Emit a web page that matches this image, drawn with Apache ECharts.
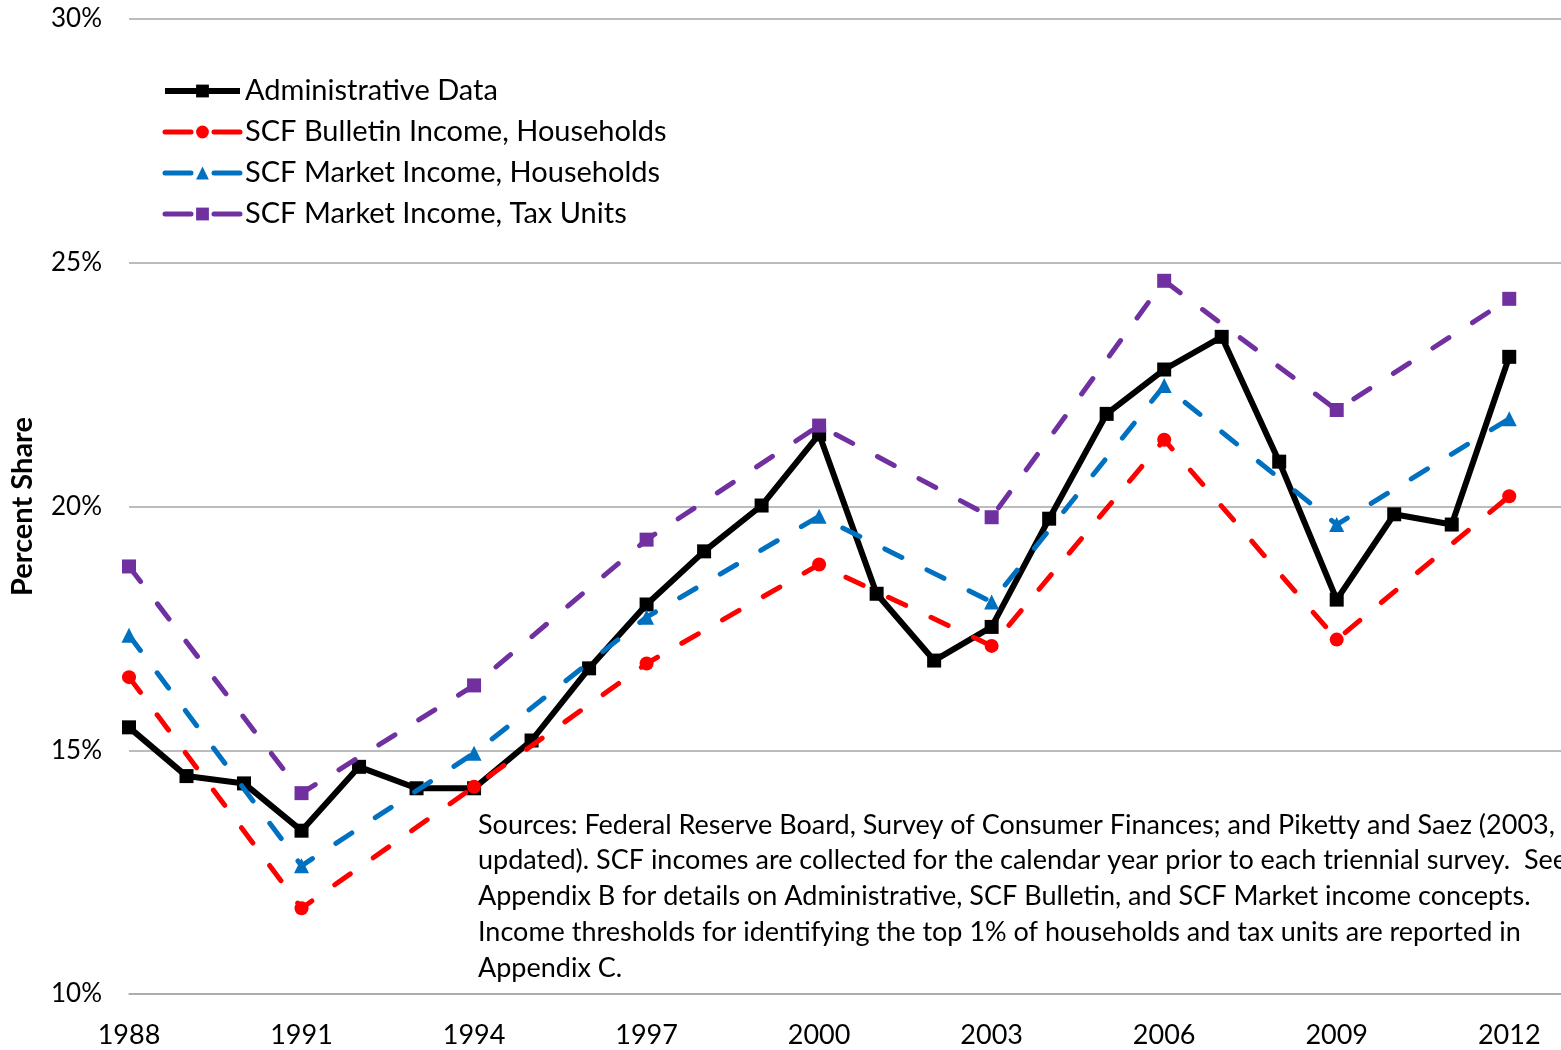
<!DOCTYPE html>
<html>
<head>
<meta charset="utf-8">
<title>Top 1% income share</title>
<script src="https://cdn.jsdelivr.net/npm/echarts@6/dist/echarts.min.js"></script>
<style>
  html, body { margin: 0; padding: 0; background: #fff; }
  #chart { width: 1561px; height: 1050px; }
</style>
</head>
<body>
<div id="chart"></div>
<script>
// administrative data is annual
var adminYears = [1988, 1989, 1990, 1991, 1992, 1993, 1994, 1995, 1996, 1997, 1998, 1999, 2000,
                  2001, 2002, 2003, 2004, 2005, 2006, 2007, 2008, 2009, 2010, 2011, 2012];
var adminShare = [15.47, 14.47, 14.32, 13.35, 14.66, 14.22, 14.22, 15.2, 16.68, 17.99, 19.08, 20.02, 21.48,
                  18.21, 16.84, 17.53, 19.75, 21.9, 22.81, 23.48, 20.92, 18.09, 19.84, 19.63, 23.07];

// SCF is triennial
var scfYears = [1988, 1991, 1994, 1997, 2000, 2003, 2006, 2009, 2012];
var scfBulletinHH = [16.5, 11.76, 14.25, 16.78, 18.81, 17.14, 21.37, 17.27, 20.21];
var scfMarketHH   = [17.36, 12.63, 14.94, 17.73, 19.8, 18.04, 22.48, 19.63, 21.8];
var scfMarketTU   = [18.77, 14.12, 16.33, 19.32, 21.66, 19.78, 24.63, 21.98, 24.26];

var seriesNames = ['Administrative Data', 'SCF Bulletin Income, Households',
                   'SCF Market Income, Households', 'SCF Market Income, Tax Units'];

var note = 'Sources: Federal Reserve Board, Survey of Consumer Finances; and Piketty and Saez (2003,\n' +
  'updated). SCF incomes are collected for the calendar year prior to each triennial survey.  See\n' +
  'Appendix B for details on Administrative, SCF Bulletin, and SCF Market income concepts.\n' +
  'Income thresholds for identifying the top 1% of households and tax units are reported in\n' +
  'Appendix C.';

function pairs(xs, ys) {
  return xs.map(function (x, i) { return [x, ys[i]]; });
}

var FONT = 'Lato';
var dash = [19, 28];
var legendDash = [26, 23]; // leaves a little gap either side of the legend marker

var myChart = echarts.init(document.getElementById('chart'));
myChart.setOption({
  animation: false,
  textStyle: { fontFamily: FONT },
  grid: { left: 127, right: 0, top: 19, bottom: 56 },
  legend: {
    orient: 'vertical',
    left: 162,
    top: 75,
    padding: 0,
    itemWidth: 75,
    itemHeight: 16,
    itemGap: 9,
    textStyle: { fontSize: 29, color: '#000', fontFamily: FONT, lineHeight: 32 },
    lineStyle: { width: 5 },
    data: [
      { name: seriesNames[0], lineStyle: { width: 6 } },
      { name: seriesNames[1], lineStyle: { type: legendDash } },
      { name: seriesNames[2], lineStyle: { type: legendDash } },
      { name: seriesNames[3], lineStyle: { type: legendDash } }
    ]
  },
  xAxis: {
    type: 'value',
    min: 1988,
    max: 2012.9,
    interval: 3,
    axisLine: { lineStyle: { color: '#a6a6a6', width: 1.5 } },
    axisTick: { show: false },
    splitLine: { show: false },
    axisLabel: {
      fontSize: 27, color: '#000', margin: 28, showMaxLabel: false,
      formatter: function (v) { return String(v); }
    }
  },
  yAxis: {
    type: 'value',
    min: 10,
    max: 30,
    interval: 5,
    name: 'Percent Share',
    nameLocation: 'middle',
    nameGap: 92,
    nameTextStyle: { fontSize: 29, fontWeight: 'bold', color: '#000' },
    axisLine: { show: false },
    axisTick: { show: false },
    splitLine: { lineStyle: { color: '#a6a6a6', width: 1.5 } },
    axisLabel: { fontSize: 26, color: '#000', margin: 27, formatter: '{value}%' }
  },
  graphic: [{
    type: 'text',
    left: 478,
    top: 807,
    style: { text: note, font: '27px ' + FONT, fill: '#000', lineHeight: 35.75 }
  }],
  series: [
    {
      name: seriesNames[0], type: 'line', z: 2,
      data: pairs(adminYears, adminShare),
      symbol: 'rect', symbolSize: 14,
      itemStyle: { color: '#000' },
      lineStyle: { color: '#000', width: 6 }
    },
    {
      name: seriesNames[1], type: 'line', z: 3,
      data: pairs(scfYears, scfBulletinHH),
      symbol: 'circle', symbolSize: 14,
      itemStyle: { color: '#ff0000' },
      lineStyle: { color: '#ff0000', width: 5, type: dash, cap: 'round' }
    },
    {
      name: seriesNames[2], type: 'line', z: 4,
      data: pairs(scfYears, scfMarketHH),
      symbol: 'triangle', symbolSize: 15,
      itemStyle: { color: '#0070c0' },
      lineStyle: { color: '#0070c0', width: 5, type: dash, cap: 'round' }
    },
    {
      name: seriesNames[3], type: 'line', z: 5,
      data: pairs(scfYears, scfMarketTU),
      symbol: 'rect', symbolSize: 14,
      itemStyle: { color: '#7030a0' },
      lineStyle: { color: '#7030a0', width: 5, type: dash, cap: 'round' }
    }
  ]
});
</script>
</body>
</html>
